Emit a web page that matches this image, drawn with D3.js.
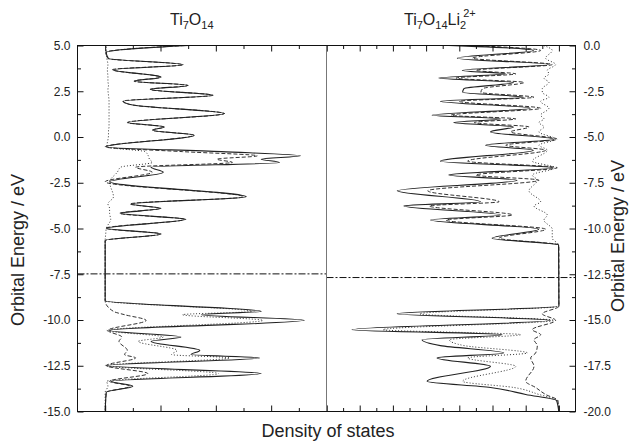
<!DOCTYPE html>
<html>
<head>
<meta charset="utf-8">
<script src="https://cdn.jsdelivr.net/npm/d3@7"></script>
<style>
  body { margin: 0; background: #fff; }
  text { font-family: Arial, "Liberation Sans", sans-serif; fill: #222; }
</style>
</head>
<body>
<svg id="chart" width="642" height="443"></svg>
<script>
// ---- data: Ti7O14 (left panel) ----
// energy points (eV), total DOS, Ti part (dashed), O part (dotted)
const energyLeft = [5.10, 4.62, 4.29, 3.95, 3.68, 3.27, 3.05, 2.82, 2.60, 2.28, 1.96, 1.75, 1.28, 0.79, 0.55, 0.37, 0.10,
  -0.54, -0.80, -1.03, -1.21, -1.39, -1.65, -1.92, -2.45, -3.27, -3.66, -3.90, -4.17, -4.50, -4.99, -5.30, -5.66,
  -8.95, -9.53, -9.71, -10.02, -10.57, -10.93, -11.17, -11.66, -11.89, -12.07, -12.49, -12.93, -13.35, -13.62, -13.95, -15.10];
const totalLeft = [2.10, 0.02, 0.06, 1.41, 0.14, 1.01, 0.53, 1.50, 0.82, 1.95, 0.33, 0.50, 2.16, 0.41, 1.07, 0.86, 1.61,
  0.02, 2.10, 3.53, 2.82, 3.15, 0.83, 1.05, 0.08, 2.55, 0.47, 1.01, 0.28, 1.46, 0.02, 1.01, 0.00,
  0.00, 2.82, 1.74, 3.60, 0.08, 1.37, 0.83, 1.71, 1.55, 2.79, 0.02, 2.82, 0.11, 0.50, 0.02, 0.00];
const tiLeft = [2.09, 0.01, 0.05, 1.40, 0.13, 1.00, 0.52, 1.49, 0.81, 1.94, 0.32, 0.49, 2.15, 0.40, 1.06, 0.85, 1.60,
  0.00, 1.40, 2.75, 2.02, 2.30, 0.55, 0.85, 0.00, 2.50, 0.45, 0.99, 0.26, 1.43, 0.01, 1.00, 0.00,
  0.00, 0.15, 0.35, 0.74, 0.05, 0.30, 0.25, 0.40, 0.35, 0.55, 0.02, 0.77, 0.08, 0.45, 0.02, 0.00];
const oLeft = [0.02, 0.02, 0.03, 0.05, 0.04, 0.05, 0.05, 0.06, 0.05, 0.06, 0.07, 0.07, 0.07, 0.07, 0.07, 0.06, 0.06,
  0.03, 0.72, 0.78, 0.80, 0.85, 0.28, 0.22, 0.08, 0.15, 0.05, 0.08, 0.08, 0.10, 0.02, 0.01, 0.00,
  0.00, 2.65, 1.40, 2.85, 0.03, 1.05, 0.60, 1.30, 1.20, 2.25, 0.00, 2.05, 0.03, 0.05, 0.00, 0.00];
const fermiLeft = -7.48;

// ---- data: Ti7O14Li2 2+ (right panel) ----
const energyRight = [0.05, -0.27, -0.69, -1.04, -1.36, -1.55, -1.78, -2.02, -2.36, -2.56, -2.83, -3.05, -3.43, -3.81,
  -4.01, -4.21, -4.45, -4.72, -5.12, -5.45, -5.72, -6.32, -6.68, -7.08, -7.36, -7.94, -8.54, -8.77, -9.26, -9.54,
  -10.04, -10.53, -10.90, -14.25, -14.66, -15.02, -15.53, -15.80, -16.08, -16.40, -16.80, -17.07, -17.53, -18.35,
  -18.69, -19.07, -19.40, -20.10];
const totalRight = [3.90, 0.77, 3.06, 0.31, 2.91, 1.61, 3.62, 1.37, 2.86, 2.90, 1.07, 3.57, 0.86, 3.82,
  1.76, 3.17, 1.37, 2.06, 0.16, 2.21, 0.77, 3.57, 0.19, 3.32, 1.26, 4.87, 2.36, 4.67, 1.76, 3.87,
  0.61, 2.01, 0.01, 0.00, 4.87, 0.25, 6.23, 1.71, 4.12, 3.57, 1.66, 3.67, 2.06, 3.97,
  2.06, 1.00, 0.07, 0.00];
const tiRight = [3.30, 0.55, 2.60, 0.20, 2.50, 1.30, 3.10, 1.05, 2.30, 2.35, 0.75, 3.00, 0.55, 3.25,
  1.30, 2.55, 0.90, 1.45, 0.05, 1.60, 0.40, 2.75, 0.05, 2.50, 0.60, 3.95, 1.80, 3.90, 1.40, 3.40,
  0.40, 1.80, 0.00, 0.00, 0.50, 0.10, 0.80, 0.55, 0.75, 0.65, 0.70, 0.85, 0.75, 1.00,
  0.70, 0.40, 0.03, 0.00];
const oRight = [0.55, 0.20, 0.40, 0.10, 0.35, 0.30, 0.45, 0.30, 0.50, 0.50, 0.30, 0.55, 0.30, 0.55,
  0.45, 0.60, 0.45, 0.60, 0.10, 0.60, 0.35, 0.80, 0.12, 0.80, 0.65, 0.90, 0.55, 0.75, 0.35, 0.45,
  0.20, 0.20, 0.01, 0.00, 4.20, 0.15, 5.30, 1.15, 3.30, 2.85, 0.95, 2.75, 1.30, 2.90,
  1.35, 0.60, 0.04, 0.00];
const fermiRight = -12.68;

// ---- ticks ----
const yMajorLeft = [5, 2.5, 0, -2.5, -5, -7.5, -10, -12.5, -15];
const yMinorLeft = [3.75, 1.25, -1.25, -3.75, -6.25, -8.75, -11.25, -13.75];
const yMajorRight = [0, -2.5, -5, -7.5, -10, -12.5, -15, -17.5, -20];
const yMinorRight = [-1.25, -3.75, -6.25, -8.75, -11.25, -13.75, -16.25, -18.75];
const xMajorLeft = [0, 1, 2, 3, 4];
const xMinorLeft = [0.5, 1.5, 2.5, 3.5];
const xMajorRight = [0, 1, 2, 3, 4, 5, 6, 7];
const xMinorRight = [0.5, 1.5, 2.5, 3.5, 4.5, 5.5, 6.5];

const frame = { left: 77.5, mid: 326.5, right: 575.5, top: 45.5, bottom: 411.5 };
const svg = d3.select("#chart");

const xLeft = d3.scaleLinear().domain([-0.5, 4]).range([frame.left, frame.mid]);
const xRight = d3.scaleLinear().domain([7, -0.5]).range([frame.mid, frame.right]);
const yLeft = d3.scaleLinear().domain([-15, 5]).range([frame.bottom, frame.top]);
const yRight = d3.scaleLinear().domain([-20, 0]).range([frame.bottom, frame.top]);

const defs = svg.append("defs");
defs.append("clipPath").attr("id", "clipL").append("rect")
  .attr("x", frame.left).attr("y", frame.top)
  .attr("width", frame.mid - frame.left).attr("height", frame.bottom - frame.top);
defs.append("clipPath").attr("id", "clipR").append("rect")
  .attr("x", frame.mid).attr("y", frame.top)
  .attr("width", frame.right - frame.mid).attr("height", frame.bottom - frame.top);

// draw one DOS panel
function panel(clip, x, y, energy, series, fermi) {
  const g = svg.append("g").attr("clip-path", `url(#${clip})`);
  const line = d3.line()
    .x(d => x(d[1]))
    .y(d => y(d[0]))
    .curve(d3.curveMonotoneY);
  series.forEach(s => {
    g.append("path")
      .datum(d3.zip(energy, s.values))
      .attr("d", line)
      .attr("fill", "none")
      .attr("stroke", s.color)
      .attr("stroke-width", s.width)
      .attr("stroke-dasharray", s.dash);
  });
  // fermi level, dash-dot
  g.append("line")
    .attr("x1", x.range()[0]).attr("x2", x.range()[1])
    .attr("y1", y(fermi)).attr("y2", y(fermi))
    .attr("stroke", "#111").attr("stroke-width", 1)
    .attr("stroke-dasharray", "7,2,2,2");
}

panel("clipL", xLeft, yLeft, energyLeft, [
  { values: oLeft, color: "#333", width: 1, dash: "1,2" },
  { values: tiLeft, color: "#333", width: 1, dash: "4,2" },
  { values: totalLeft, color: "#222", width: 1.1, dash: null }
], fermiLeft);

panel("clipR", xRight, yRight, energyRight, [
  { values: oRight, color: "#333", width: 1, dash: "1,2" },
  { values: tiRight, color: "#333", width: 1, dash: "4,2" },
  { values: totalRight, color: "#222", width: 1.1, dash: null }
], fermiRight);

// axes (ticks pointing inward)
const fmt = d => d.toFixed(1);
function addAxis(axis, tx, ty) {
  const g = svg.append("g").attr("transform", `translate(${tx},${ty})`).call(axis);
  g.select(".domain").remove();
  g.selectAll("line").attr("stroke", "#111");
  g.selectAll("text").attr("font-size", 12).attr("fill", "#222")
    .attr("font-family", "Arial, 'Liberation Sans', sans-serif");
  return g;
}

addAxis(d3.axisLeft(yLeft).tickValues(yMajorLeft).tickSize(-6).tickPadding(7).tickFormat(fmt), frame.left, 0);
addAxis(d3.axisLeft(yLeft).tickValues(yMinorLeft).tickSize(-3.5).tickFormat(""), frame.left, 0);
addAxis(d3.axisRight(yRight).tickValues(yMajorRight).tickSize(-6).tickPadding(8).tickFormat(fmt), frame.right, 0);
addAxis(d3.axisRight(yRight).tickValues(yMinorRight).tickSize(-3.5).tickFormat(""), frame.right, 0);

[[xLeft, xMajorLeft, xMinorLeft], [xRight, xMajorRight, xMinorRight]].forEach(([x, major, minor]) => {
  addAxis(d3.axisBottom(x).tickValues(major).tickSize(-6).tickFormat(""), 0, frame.bottom);
  addAxis(d3.axisBottom(x).tickValues(minor).tickSize(-3.5).tickFormat(""), 0, frame.bottom);
  addAxis(d3.axisTop(x).tickValues(major).tickSize(-6).tickFormat(""), 0, frame.top);
  addAxis(d3.axisTop(x).tickValues(minor).tickSize(-3.5).tickFormat(""), 0, frame.top);
});

// divider between panels
svg.append("line")
  .attr("x1", frame.mid).attr("x2", frame.mid)
  .attr("y1", frame.top).attr("y2", frame.bottom)
  .attr("stroke", "#777").attr("stroke-width", 1);

// frame
svg.append("rect")
  .attr("x", frame.left).attr("y", frame.top)
  .attr("width", frame.right - frame.left).attr("height", frame.bottom - frame.top)
  .attr("fill", "none").attr("stroke", "#111").attr("stroke-width", 1);

// panel titles
const t1 = svg.append("text").attr("x", 170).attr("y", 25).attr("font-size", 16);
t1.append("tspan").text("Ti");
t1.append("tspan").attr("font-size", 11).attr("dy", 4).text("7");
t1.append("tspan").attr("dy", -4).text("O");
t1.append("tspan").attr("font-size", 11).attr("dy", 4).text("14");

const t2 = svg.append("text").attr("x", 404).attr("y", 25).attr("font-size", 16);
t2.append("tspan").text("Ti");
t2.append("tspan").attr("font-size", 11).attr("dy", 4).text("7");
t2.append("tspan").attr("dy", -4).text("O");
t2.append("tspan").attr("font-size", 11).attr("dy", 4).text("14");
t2.append("tspan").attr("dy", -4).text("Li");
t2.append("tspan").attr("font-size", 11).attr("dy", 4).text("2");
t2.append("tspan").attr("font-size", 11).attr("dx", -3).attr("dy", -12).text("2+");

// axis titles
svg.append("text")
  .attr("transform", "translate(24,250) rotate(-90)")
  .attr("text-anchor", "middle").attr("font-size", 18)
  .text("Orbital Energy / eV");
svg.append("text")
  .attr("transform", "translate(624,236) rotate(-90)")
  .attr("text-anchor", "middle").attr("font-size", 18)
  .text("Orbital Energy / eV");
svg.append("text")
  .attr("x", 328).attr("y", 437)
  .attr("text-anchor", "middle").attr("font-size", 18)
  .text("Density of states");
</script>
</body>
</html>
